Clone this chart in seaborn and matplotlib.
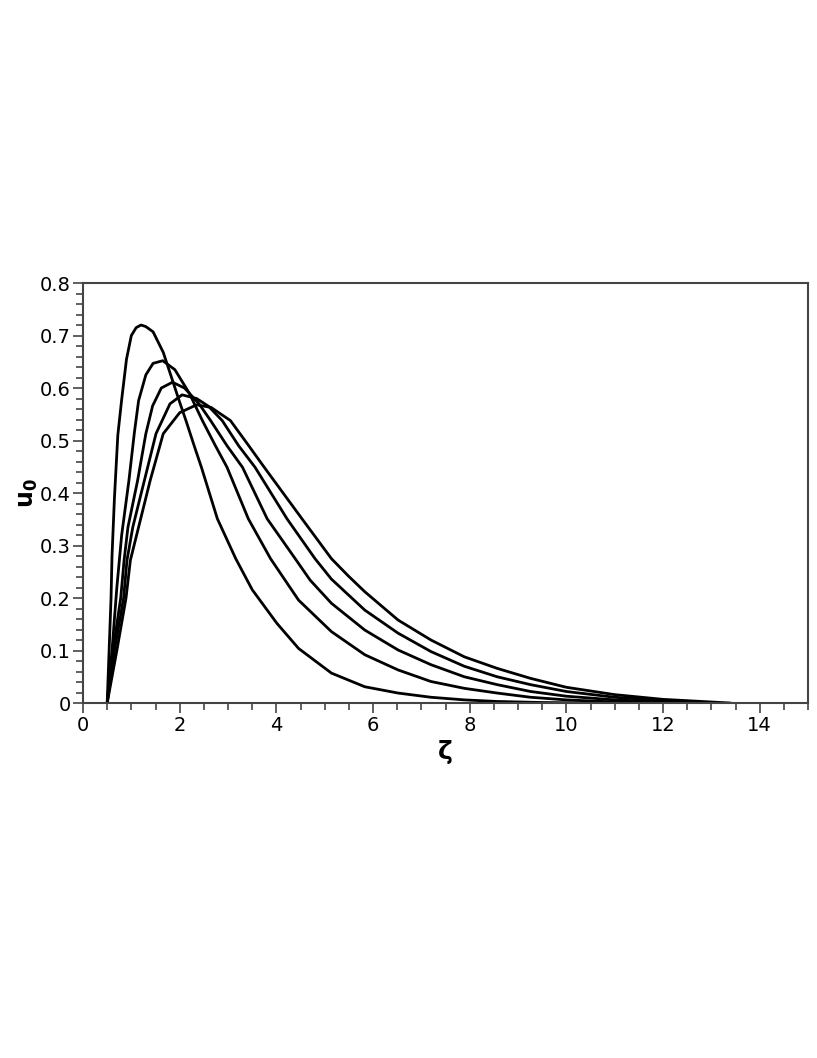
import pandas as pd
import seaborn as sns
import matplotlib.pyplot as plt
from matplotlib.ticker import MultipleLocator

# Curvas (zeta, u0)
zeta_1 = [0.5, 0.54, 0.58, 0.6, 0.65, 0.72, 0.8, 0.9, 1.0, 1.1, 1.2, 1.3, 1.45, 1.66, 2.0, 2.13, 2.3,
          2.45, 2.78, 3.16, 3.5, 4.01, 4.46, 5.14, 5.83, 6.52, 7.2, 7.89, 8.57, 9.5, 10.5]
u0_1 = [0.0, 0.1, 0.2, 0.28, 0.39, 0.51, 0.578, 0.655, 0.70, 0.715, 0.72, 0.717, 0.707, 0.668, 0.573, 0.538, 0.49,
        0.449, 0.351, 0.275, 0.216, 0.152, 0.104, 0.057, 0.031, 0.019, 0.011, 0.006, 0.003, 0.001, 0.0]

zeta_2 = [0.5, 0.6, 0.7, 0.8, 0.95, 1.06, 1.15, 1.3, 1.45, 1.65, 1.9, 2.2, 2.47, 2.74, 2.98, 3.42, 3.88,
          4.46, 5.14, 5.83, 6.52, 7.2, 7.89, 8.57, 9.26, 10.0, 11.0, 11.8]
u0_2 = [0.0, 0.1, 0.22, 0.32, 0.424, 0.513, 0.576, 0.625, 0.647, 0.652, 0.635, 0.59, 0.538, 0.49, 0.449, 0.351, 0.275,
        0.196, 0.136, 0.092, 0.063, 0.041, 0.028, 0.019, 0.011, 0.006, 0.002, 0.0]

zeta_3 = [0.5, 0.62, 0.78, 0.85, 0.93, 1.13, 1.3, 1.44, 1.62, 1.85, 2.1, 2.4, 2.64, 2.98, 3.3, 3.81, 4.39,
          4.7, 5.14, 5.83, 6.52, 7.2, 7.89, 8.57, 9.26, 10.0, 11.0, 12.0, 12.5]
u0_3 = [0.0, 0.1, 0.2, 0.272, 0.335, 0.424, 0.513, 0.566, 0.600, 0.611, 0.60, 0.57, 0.538, 0.49, 0.449, 0.351, 0.275,
        0.234, 0.19, 0.139, 0.101, 0.073, 0.05, 0.035, 0.022, 0.013, 0.006, 0.002, 0.0]

zeta_4 = [0.5, 0.65, 0.84, 0.91, 1.03, 1.27, 1.51, 1.8, 2.05, 2.35, 2.6, 2.88, 3.22, 3.56, 4.22, 4.8,
          5.14, 5.83, 6.52, 7.2, 7.89, 8.57, 9.26, 10.0, 11.0, 12.0, 12.5, 13.0]
u0_4 = [0.0, 0.1, 0.2, 0.272, 0.335, 0.424, 0.513, 0.570, 0.587, 0.58, 0.565, 0.538, 0.49, 0.449, 0.351, 0.275,
        0.236, 0.177, 0.133, 0.098, 0.07, 0.05, 0.035, 0.022, 0.011, 0.005, 0.002, 0.0]

zeta_5 = [0.5, 0.7, 0.89, 0.98, 1.15, 1.39, 1.66, 2.0, 2.35, 2.65, 3.05, 3.43, 3.75, 4.53, 5.14,
          5.49, 5.83, 6.52, 7.2, 7.89, 8.57, 9.26, 10.0, 11.0, 12.0, 13.0, 13.4]
u0_5 = [0.0, 0.1, 0.2, 0.272, 0.335, 0.424, 0.513, 0.553, 0.568, 0.563, 0.538, 0.49, 0.449, 0.351, 0.275,
        0.242, 0.212, 0.158, 0.12, 0.088, 0.066, 0.047, 0.03, 0.016, 0.007, 0.002, 0.0]

curves = [(zeta_1, u0_1), (zeta_2, u0_2), (zeta_3, u0_3), (zeta_4, u0_4), (zeta_5, u0_5)]

# Montando a tabela longa para o seaborn
frames = []
for i, (z, u) in enumerate(curves):
    frames.append(pd.DataFrame({'zeta': z, 'u0': u, 'curva': i}))
df = pd.concat(frames, ignore_index=True)

sns.set_style('ticks')
plt.rcParams['font.family'] = ['DejaVu Sans']
plt.rcParams['text.color'] = 'black'
plt.rcParams['axes.labelcolor'] = 'black'
plt.rcParams['xtick.labelcolor'] = 'black'
plt.rcParams['ytick.labelcolor'] = 'black'

fig = plt.figure(figsize=(8.17, 10.58), dpi=100)
ax = fig.add_axes([0.1016, 0.3355, 0.8874, 0.397])

sns.lineplot(data=df, x='zeta', y='u0', units='curva', estimator=None, sort=False,
             color='black', linewidth=2.0, ax=ax)

ax.set_xlim(0, 15)
ax.set_ylim(0, 0.8)
ax.xaxis.set_major_locator(MultipleLocator(2))
ax.xaxis.set_minor_locator(MultipleLocator(0.5))
ax.yaxis.set_major_locator(MultipleLocator(0.1))
ax.yaxis.set_minor_locator(MultipleLocator(0.02))
ax.set_xticklabels([f'{int(t)}' for t in ax.get_xticks()])
ax.set_yticklabels(['0' if t == 0 else f'{t:.1f}' for t in ax.get_yticks()])

for s in ax.spines.values():
    s.set_color('#444444')
    s.set_linewidth(1.5)
ax.tick_params(which='major', direction='out', length=7, width=1.2, color='#444444',
               labelsize=14, pad=2, top=False, right=False)
ax.tick_params(which='minor', direction='out', length=5, width=1.2, color='#444444',
               top=False, right=False)

ax.set_xlabel('ζ', fontsize=18, fontweight='bold', labelpad=4)
ax.set_ylabel('u$_\\mathbf{0}$', fontsize=17, fontweight='bold', labelpad=0)

fig.savefig('out.png', dpi=100, facecolor='white')
